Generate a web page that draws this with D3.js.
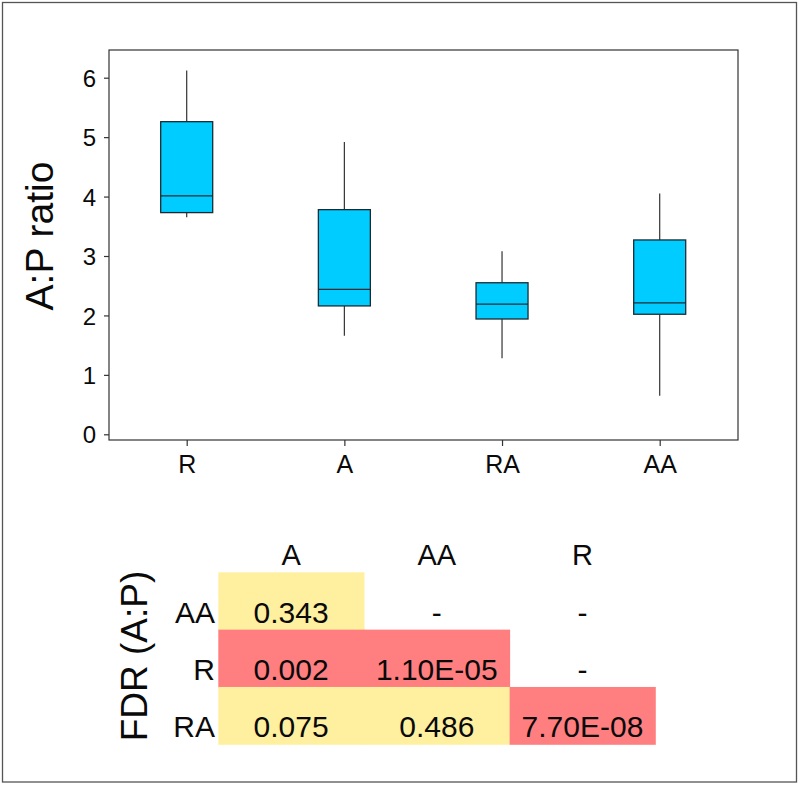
<!DOCTYPE html>
<html><head><meta charset="utf-8">
<script src="https://cdn.jsdelivr.net/npm/d3@7"></script>
<style>
html,body{margin:0;padding:0;background:#fff;}
svg{display:block;font-family:"Liberation Sans",Arial,Helvetica,sans-serif;}
</style></head>
<body>
<svg id="chart" width="800" height="785"></svg>
<script>
// ---- Box plot data ----
const categories = ["R", "A", "RA", "AA"];
const whiskerLow  = [3.65, 1.66, 1.28, 0.65];
const q1          = [3.73, 2.16, 1.94, 2.02];
const median      = [4.01, 2.44, 2.19, 2.21];
const q3          = [5.26, 3.78, 2.55, 3.27];
const whiskerHigh = [6.12, 4.92, 3.08, 4.05];
const yTicks = [0, 1, 2, 3, 4, 5, 6];

// ---- FDR table ----
const tableCols = ["A", "AA", "R"];
const tableRows = ["AA", "R", "RA"];
const fdrText = [
  ["0.343", "-", "-"],
  ["0.002", "1.10E-05", "-"],
  ["0.075", "0.486", "7.70E-08"]
];
const fdrValue = [
  [0.343, null, null],
  [0.002, 1.10e-05, null],
  [0.075, 0.486, 7.70e-08]
];

const svg = d3.select("#chart");
const FONT = '"Liberation Sans",Arial,sans-serif';

// outer border
svg.append("rect").attr("x", 2.5).attr("y", 2.5).attr("width", 794).attr("height", 779.5)
  .attr("fill", "none").attr("stroke", "#555").attr("stroke-width", 1.3);

// plot frame
const frame = {x0: 109, x1: 738, y0: 50, y1: 440};
const y = d3.scaleLinear().domain([0, 6]).range([434.3, 77.7]);
const x = d3.scalePoint().domain(categories).range([186.7, 659.7]);
const boxW = 52;

svg.append("rect").attr("x", frame.x0).attr("y", frame.y0)
  .attr("width", frame.x1 - frame.x0).attr("height", frame.y1 - frame.y0)
  .attr("fill", "none").attr("stroke", "#333").attr("stroke-width", 1.2);

// y axis
const yAxis = d3.axisLeft(y).tickValues(yTicks).tickSize(5).tickPadding(8).tickFormat(d3.format("d"));
const gy = svg.append("g").attr("transform", `translate(${frame.x0},0)`).call(yAxis);
gy.select(".domain").remove();
gy.selectAll(".tick line").attr("stroke", "#333").attr("stroke-width", 1.2);
gy.selectAll(".tick text").attr("font-size", 24).attr("fill", "#0a0a0a")
  .attr("font-family", FONT).attr("dy", "0.36em");

// x axis
const xAxis = d3.axisBottom(x).tickSize(6).tickPadding(9);
const gx = svg.append("g").attr("transform", `translate(0,${frame.y1})`).call(xAxis);
gx.select(".domain").remove();
gx.selectAll(".tick line").attr("stroke", "#333").attr("stroke-width", 1.2);
gx.selectAll(".tick text").attr("font-size", 25).attr("fill", "#0a0a0a")
  .attr("font-family", FONT).attr("dy", "0.72em");

// y label
svg.append("text").attr("transform", "translate(53,236) rotate(-90)")
  .attr("text-anchor", "middle").attr("font-size", 39).attr("fill", "#0a0a0a").text("A:P ratio");

// boxes
const boxes = categories.map((c, i) => ({c, lo: whiskerLow[i], q1: q1[i], med: median[i], q3: q3[i], hi: whiskerHigh[i]}));
const gb = svg.append("g");
boxes.forEach(b => {
  const cx = x(b.c);
  gb.append("line").attr("x1", cx).attr("x2", cx).attr("y1", y(b.hi)).attr("y2", y(b.q3))
    .attr("stroke", "#333").attr("stroke-width", 1.2);
  gb.append("line").attr("x1", cx).attr("x2", cx).attr("y1", y(b.q1)).attr("y2", y(b.lo))
    .attr("stroke", "#333").attr("stroke-width", 1.2);
  gb.append("rect").attr("x", cx - boxW / 2).attr("y", y(b.q3))
    .attr("width", boxW).attr("height", y(b.q1) - y(b.q3))
    .attr("fill", "#00CCFF").attr("stroke", "#1c2b33").attr("stroke-width", 1.3);
  gb.append("line").attr("x1", cx - boxW / 2).attr("x2", cx + boxW / 2)
    .attr("y1", y(b.med)).attr("y2", y(b.med)).attr("stroke", "#1c2b33").attr("stroke-width", 1.3);
});

// ---- table ----
const tx = d3.scaleBand().domain(tableCols).range([218.3, 655.3]);
const ty = d3.scaleBand().domain(tableRows).range([572.3, 744.3]);
const color = v => v == null ? "none" : (v < 0.05 ? "#FF7F80" : "#FFF0A0");

const gt = svg.append("g");
tableRows.forEach((r, ri) => {
  tableCols.forEach((c, ci) => {
    const v = fdrValue[ri][ci];
    if (v != null) {
      gt.append("rect").attr("x", tx(c)).attr("y", ty(r))
        .attr("width", tx.bandwidth() + 0.5).attr("height", ty.bandwidth() + 0.5)
        .attr("fill", color(v));
    }
  });
});
tableRows.forEach((r, ri) => {
  tableCols.forEach((c, ci) => {
    gt.append("text").attr("x", tx(c) + tx.bandwidth() / 2).attr("y", ty(r) + ty.bandwidth() - 7)
      .attr("text-anchor", "middle").attr("font-size", 30).attr("fill", "#0a0a0a")
      .text(fdrText[ri][ci]);
  });
  gt.append("text").attr("x", 215).attr("y", ty(r) + ty.bandwidth() - 7)
    .attr("text-anchor", "end").attr("font-size", 30).attr("fill", "#0a0a0a").text(r);
});
tableCols.forEach(c => {
  gt.append("text").attr("x", tx(c) + tx.bandwidth() / 2).attr("y", 565)
    .attr("text-anchor", "middle").attr("font-size", 29).attr("fill", "#0a0a0a").text(c);
});
svg.append("text").attr("transform", "translate(147,656) rotate(-90)")
  .attr("text-anchor", "middle").attr("font-size", 37).attr("fill", "#0a0a0a").text("FDR (A:P)");
</script>
</body></html>
